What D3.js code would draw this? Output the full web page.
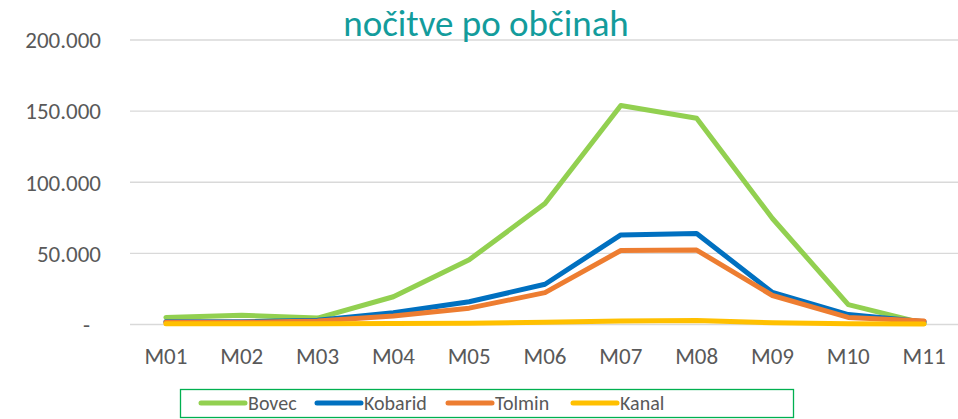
<!DOCTYPE html>
<meta charset="utf-8">
<style>
	body { margin: 0; background: #ffffff; }
	svg { display: block; }
	.axis text { font-family: Carlito, Lato, "Open Sans", sans-serif; font-size: 23px; fill: #595959; }
	.title { font-family: Carlito, Lato, "Open Sans", sans-serif; font-size: 37px; fill: #139C9C; }
	.legend text { font-family: Carlito, Lato, "Open Sans", sans-serif; font-size: 20px; fill: #595959; }
	.grid line { stroke: #D9D9D9; stroke-width: 1.3; }
	.series { fill: none; stroke-width: 5; stroke-linejoin: round; stroke-linecap: round; }
</style>
<svg></svg>
<script src="https://cdn.jsdelivr.net/npm/d3@7"></script>
<script>
	var months = ["M01","M02","M03","M04","M05","M06","M07","M08","M09","M10","M11"];
	var yTicks = [0, 50000, 100000, 150000, 200000];

	var bovec   = [5000, 6500, 4500, 19500, 45500, 85000, 154000, 145000, 74500, 14000, 800];
	var kobarid = [2000, 2000, 3000, 8300, 16000, 28300, 63000, 64000, 22500, 7000, 2000];
	var tolmin  = [1500, 1500, 2500, 6000, 11500, 22400, 52000, 52300, 20400, 5000, 2500];
	var kanal   = [500, 500, 600, 700, 900, 1500, 2500, 2800, 1200, 600, 300];

	var seriesNames = ["Bovec", "Kobarid", "Tolmin", "Kanal"];
	var seriesColors = ["#92D050", "#0070C0", "#ED7D31", "#FFC000"];
	var seriesValues = [bovec, kobarid, tolmin, kanal];

	var size = { wt: 958, ht: 419 };
	var plot = { left: 128, right: 962, top: 40, bottom: 324.5 };

	var svg = d3.select("svg").attr("width", size.wt).attr("height", size.ht);

	var loc = d3.formatLocale({ decimal: ",", thousands: ".", grouping: [3], currency: ["", " €"] });
	var fmt = loc.format(",d");

	var xScale = d3.scaleBand().domain(months).range([plot.left, plot.right]);
	var yScale = d3.scaleLinear().domain([0, 200000]).range([plot.bottom, plot.top]);

	// gridlines
	svg.append("g").attr("class", "grid")
		.selectAll("line").data(yTicks)
		.enter().append("line")
		.attr("x1", 130).attr("x2", 958)
		.attr("y1", function (d){ return yScale(d); })
		.attr("y2", function (d){ return yScale(d); });

	// y axis labels
	var yAxis = d3.axisLeft(yScale).tickValues(yTicks).tickSize(0).tickPadding(0)
		.tickFormat(function (d){ return d === 0 ? "-" : fmt(d); });
	var gy = svg.append("g").attr("class", "axis").attr("transform", "translate(101,0)").call(yAxis);
	gy.select(".domain").remove();
	gy.selectAll("text").attr("dy", "0.34em")
		.attr("dx", function (d){ return d === 0 ? -11 : 0; });

	// x axis labels
	var xAxis = d3.axisBottom(xScale).tickSize(0).tickPadding(0);
	var gx = svg.append("g").attr("class", "axis").attr("transform", "translate(0,364)").call(xAxis);
	gx.select(".domain").remove();
	gx.selectAll("text").attr("dy", "0");

	// lines
	var line = d3.line()
		.x(function (d, i){ return xScale(months[i]) + xScale.bandwidth() / 2; })
		.y(function (d){ return yScale(d); });

	svg.append("g").selectAll("path").data(seriesValues)
		.enter().append("path")
		.attr("class", "series")
		.attr("stroke", function (d, i){ return seriesColors[i]; })
		.attr("d", line);

	// title
	svg.append("text").attr("class", "title")
		.attr("x", 486).attr("y", 36).attr("text-anchor", "middle")
		.text("nočitve po občinah");

	// legend
	var legend = svg.append("g").attr("class", "legend");
	legend.append("rect")
		.attr("x", 180.5).attr("y", 389.5).attr("width", 613).attr("height", 28)
		.attr("fill", "none").attr("stroke", "#00B050").attr("stroke-width", 1.3);

	var legendX = [201, 317, 448, 573];
	var items = legend.selectAll(".item").data(seriesNames)
		.enter().append("g").attr("class", "item")
		.attr("transform", function (d, i){ return "translate(" + legendX[i] + ",403)"; });
	items.append("line")
		.attr("x1", 0).attr("x2", 44).attr("y1", 0).attr("y2", 0)
		.attr("stroke", function (d, i){ return seriesColors[i]; })
		.attr("stroke-width", 5).attr("stroke-linecap", "round");
	items.append("text")
		.attr("x", 47).attr("dy", "0.35em")
		.text(function (d){ return d; });
</script>
